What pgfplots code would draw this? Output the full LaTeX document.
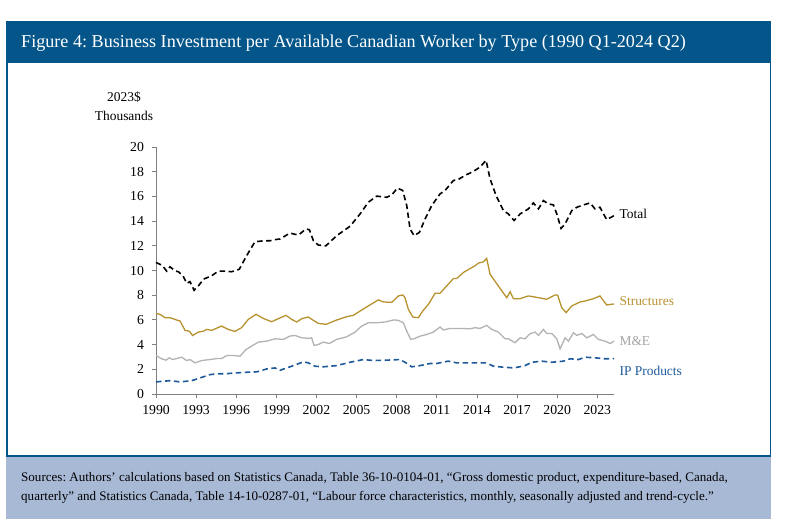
\documentclass[border=0pt]{standalone}
\usepackage{fontspec}
\setmainfont{Liberation Serif}
\usepackage{pgfplots}
\pgfplotsset{compat=1.18}
\definecolor{titleblue}{HTML}{03558A}
\definecolor{srcbg}{HTML}{A8B9D6}
\definecolor{gold}{HTML}{B8922F}
\definecolor{meg}{HTML}{B3B3B3}
\definecolor{megtext}{HTML}{A3A3A3}
\definecolor{ipblue}{HTML}{1E5A99}
\definecolor{axgray}{HTML}{7F7F7F}
\frenchspacing
\begin{document}
\begin{tikzpicture}
\fill[white] (0,0) rectangle (800bp,530bp);
\fill[titleblue] (6bp,468bp) rectangle (771bp,509bp);
\node[anchor=base west, text=white, font=\fontsize{18.2}{20}\selectfont, inner sep=0pt] at (21bp,482.5bp) {Figure 4: Business Investment per Available Canadian Worker by Type (1990 Q1-2024 Q2)};
\fill[srcbg] (6bp,11bp) rectangle (771bp,74bp);
\draw[titleblue, line width=1.5bp] (6.75bp,74bp) rectangle (770.25bp,468bp);
\node[anchor=base west, font=\fontsize{13.1}{15}\selectfont, inner sep=0pt] at (21bp,48bp) {Sources: Authors' calculations based on Statistics Canada, Table 36-10-0104-01, “Gross domestic product, expenditure-based, Canada,};
\node[anchor=base west, font=\fontsize{13.1}{15}\selectfont, inner sep=0pt] at (21bp,30bp) {quarterly” and Statistics Canada, Table 14-10-0287-01, “Labour force characteristics, monthly, seasonally adjusted and trend-cycle.”};
\node[font=\fontsize{13.5}{15}\selectfont] at (124bp,433bp) {2023\$};
\node[font=\fontsize{13.5}{15}\selectfont] at (124bp,414bp) {Thousands};
\begin{axis}[
  at={(156bp,136bp)}, anchor=south west,
  scale only axis, width=458bp, height=247bp,
  xmin=1990, xmax=2024.25, ymin=0, ymax=20,
  axis lines=left,
  axis line style={-, draw=axgray, line width=0.8bp},
  xtick={1990,1993,...,2023}, ytick={0,2,...,20},
  tick align=outside, major tick length=4.5bp,
  tick style={draw=axgray, line width=0.8bp},
  x tick label style={/pgf/number format/1000 sep={}, yshift=-3bp},
  y tick label style={xshift=-4bp},
  /pgf/number format/assume math mode=true,
  tick label style={font=\fontsize{13.8}{15}\selectfont},
  clip=false,
]
\addplot[black, line width=1.6bp, dash pattern=on 5.5bp off 3.5bp] coordinates {
(1990.0,10.65)(1990.3,10.5)(1990.55,10.3)(1990.8,9.95)(1991.05,10.3)(1991.42,9.97)(1991.67,9.9)(1992.0,9.6)(1992.3,8.96)(1992.54,9.1)(1992.85,8.4)(1993.17,8.75)(1993.55,9.3)(1994.16,9.57)(1994.66,9.95)(1995.16,9.95)(1995.66,9.9)(1996.23,10.1)(1996.78,11.2)(1997.4,12.33)(1998.03,12.4)(1998.53,12.41)(1998.9,12.5)(1999.27,12.55)(2000.02,13.03)(2000.64,12.87)(2001.22,13.36)(2001.47,13.3)(2001.77,12.41)(2002.14,12.06)(2002.71,12.0)(2003.51,12.82)(2004.51,13.58)(2005.26,14.58)(2005.88,15.53)(2006.5,16.02)(2007.25,15.93)(2007.63,16.12)(2008.05,16.67)(2008.45,16.48)(2008.75,15.26)(2009.0,13.36)(2009.3,12.82)(2009.7,13.09)(2010.12,14.17)(2010.62,15.26)(2011.24,16.2)(2011.62,16.48)(2012.24,17.29)(2012.61,17.37)(2013.11,17.7)(2013.73,18.02)(2014.23,18.37)(2014.68,18.92)(2014.98,17.43)(2015.43,16.07)(2015.98,14.85)(2016.35,14.58)(2016.78,14.05)(2017.23,14.58)(2017.85,14.99)(2018.22,15.47)(2018.6,14.99)(2018.97,15.66)(2019.34,15.39)(2019.72,15.31)(2019.97,14.58)(2020.29,13.41)(2020.59,13.77)(2021.09,14.85)(2021.47,15.12)(2021.96,15.31)(2022.46,15.47)(2022.83,14.99)(2023.2,15.12)(2023.7,14.12)(2024.03,14.31)(2024.25,14.44)};
\addplot[gold, line width=1.3bp] coordinates {
(1990.0,6.53)(1990.3,6.45)(1990.67,6.18)(1991.05,6.18)(1991.55,5.99)(1991.8,5.91)(1992.17,5.15)(1992.49,5.09)(1992.74,4.74)(1993.17,5.01)(1993.55,5.09)(1993.8,5.23)(1994.16,5.15)(1994.9,5.5)(1995.4,5.23)(1995.9,5.07)(1996.4,5.37)(1996.9,6.04)(1997.48,6.45)(1998.03,6.12)(1998.65,5.85)(1999.02,6.04)(1999.72,6.37)(2000.15,6.04)(2000.52,5.83)(2000.9,6.1)(2001.39,6.23)(2001.77,5.96)(2002.14,5.72)(2002.71,5.64)(2003.51,5.99)(2004.26,6.26)(2004.76,6.37)(2005.38,6.8)(2006.0,7.21)(2006.63,7.62)(2007.0,7.45)(2007.63,7.42)(2008.13,7.94)(2008.45,8.02)(2008.62,7.8)(2008.87,6.86)(2009.2,6.23)(2009.62,6.18)(2009.95,6.72)(2010.37,7.26)(2010.87,8.16)(2011.24,8.16)(2011.74,8.75)(2012.24,9.35)(2012.49,9.35)(2012.99,9.84)(2013.49,10.16)(2013.86,10.38)(2014.11,10.6)(2014.48,10.7)(2014.73,10.98)(2014.98,9.7)(2015.6,8.75)(2016.23,7.8)(2016.48,8.27)(2016.73,7.72)(2017.23,7.72)(2017.85,7.94)(2018.6,7.8)(2019.22,7.67)(2019.84,8.02)(2020.04,8.0)(2020.34,6.99)(2020.67,6.59)(2021.09,7.13)(2021.71,7.45)(2022.09,7.53)(2022.71,7.72)(2023.2,7.94)(2023.7,7.21)(2024.25,7.29)};
\addplot[meg, line width=1.3bp] coordinates {
(1990.0,3.12)(1990.42,2.85)(1990.75,2.74)(1991.0,2.93)(1991.25,2.79)(1991.92,2.98)(1992.29,2.71)(1992.54,2.79)(1992.92,2.52)(1993.42,2.71)(1994.04,2.79)(1994.54,2.87)(1994.9,2.87)(1995.3,3.12)(1995.8,3.12)(1996.28,3.06)(1996.73,3.6)(1997.15,3.88)(1997.65,4.2)(1998.28,4.28)(1998.9,4.47)(1999.52,4.42)(2000.02,4.69)(2000.4,4.74)(2000.9,4.55)(2001.47,4.5)(2001.64,4.55)(2001.82,3.93)(2002.14,4.01)(2002.51,4.2)(2002.96,4.09)(2003.51,4.42)(2004.26,4.63)(2004.88,5.01)(2005.38,5.5)(2005.88,5.77)(2006.5,5.77)(2007.12,5.83)(2007.8,6.0)(2008.13,5.96)(2008.5,5.77)(2008.75,5.09)(2009.05,4.42)(2009.37,4.5)(2009.75,4.69)(2010.25,4.82)(2010.74,5.01)(2011.24,5.42)(2011.49,5.18)(2011.99,5.31)(2012.74,5.31)(2013.49,5.28)(2013.86,5.37)(2014.23,5.31)(2014.73,5.56)(2015.1,5.23)(2015.6,5.01)(2016.1,4.47)(2016.35,4.47)(2016.85,4.15)(2017.23,4.55)(2017.6,4.47)(2017.97,4.88)(2018.35,5.01)(2018.6,4.74)(2018.97,5.23)(2019.22,4.9)(2019.6,4.9)(2019.97,4.47)(2020.22,3.66)(2020.59,4.55)(2020.84,4.28)(2021.22,4.96)(2021.47,4.74)(2021.84,4.9)(2022.21,4.55)(2022.71,4.82)(2023.08,4.42)(2023.58,4.28)(2023.96,4.09)(2024.25,4.28)};
\addplot[ipblue, line width=1.6bp, dash pattern=on 5.5bp off 3.5bp] coordinates {
(1990,0.98)(1991.05,1.08)(1991.8,0.98)(1992.67,1.08)(1993.3,1.3)(1994.04,1.57)(1994.54,1.63)(1995.3,1.65)(1996.03,1.71)(1996.78,1.76)(1997.53,1.79)(1998.28,2.03)(1998.9,2.11)(1999.27,1.92)(2000.02,2.2)(2001.02,2.6)(2001.39,2.52)(2001.89,2.25)(2002.51,2.2)(2003.51,2.3)(2004.51,2.57)(2005.5,2.79)(2006.25,2.71)(2007.25,2.74)(2008.25,2.79)(2008.62,2.57)(2009.12,2.2)(2009.75,2.3)(2010.5,2.47)(2010.99,2.47)(2011.86,2.66)(2012.49,2.52)(2013.49,2.52)(2014.73,2.52)(2015.23,2.25)(2015.98,2.17)(2016.78,2.11)(2017.6,2.3)(2018.1,2.57)(2018.85,2.66)(2019.6,2.57)(2020.47,2.66)(2020.97,2.85)(2021.59,2.79)(2022.09,2.98)(2022.83,2.93)(2023.58,2.85)(2024.25,2.87)};
\node[anchor=west, inner sep=0pt, font=\fontsize{13.5}{15}\selectfont, text=black] at (axis cs:2024.65,14.57) {Total};
\node[anchor=west, inner sep=0pt, font=\fontsize{13.5}{15}\selectfont, text=gold] at (axis cs:2024.65,7.53) {Structures};
\node[anchor=west, inner sep=0pt, font=\fontsize{13.5}{15}\selectfont, text=megtext] at (axis cs:2024.65,4.29) {M\&E};
\node[anchor=west, inner sep=0pt, font=\fontsize{13.5}{15}\selectfont, text=ipblue] at (axis cs:2024.65,1.86) {IP Products};
\end{axis}
\end{tikzpicture}
\end{document}
